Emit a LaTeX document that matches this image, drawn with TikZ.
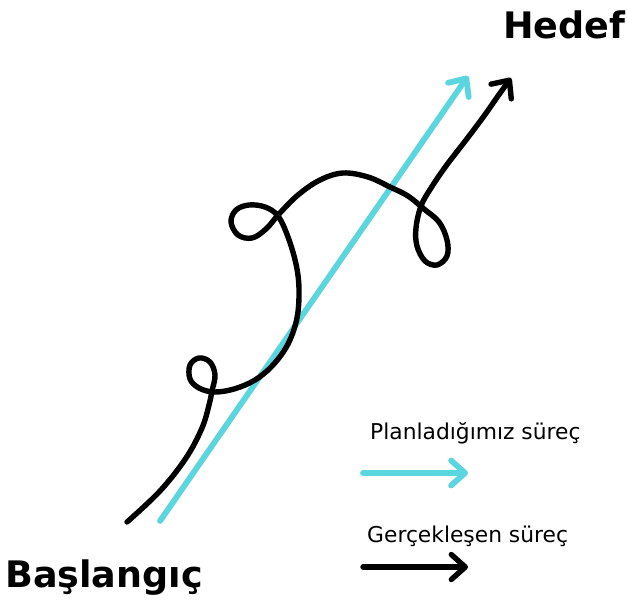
\documentclass[tikz,border=0pt]{standalone}
\usepackage{fontspec}
\setmainfont{DejaVu Sans}
\usetikzlibrary{arrows.meta}
\definecolor{plancyan}{RGB}{92,214,222}
\tikzset{
  barb/.style={-{Straight Barb[length=14pt,width=25pt,round]}},
  planned/.style={draw=plancyan, line width=5.8pt, line cap=round, barb},
  actual/.style={draw=black, line width=5.4pt, line cap=round, line join=round, barb},
  bigtitle/.style={anchor=base west, inner sep=0pt, font=\bfseries\fontsize{36.5}{40}\selectfont},
  legendtext/.style={anchor=base west, inner sep=0pt, font=\fontsize{21.8}{26}\selectfont}
}
\begin{document}
\begin{tikzpicture}[x=1pt,y=-1pt]
\useasboundingbox (0,0) rectangle (627,600);
% titles
\node[bigtitle] (hedef) at (503,38) {Hedef};
\node[bigtitle] (baslangic) at (5,587) {Başlangıç};
% planned path
\coordinate (ps) at (160,521);
\coordinate (pe) at (468,76);
\draw[planned] (ps) -- (pe);
% actual path
\draw[actual] plot[smooth, tension=0.6] coordinates {
 (127,522) (160,491) (186,458) (202,428) (209,405) (212,391) (215,375)
 (210,362) (199,358) (190,365) (190,379) (199,388) (214,392) (234,389)
 (255,380) (273,365) (288,344) (297,318) (299,289) (296,264) (288,237)
 (278,216) (265,207) (249,205) (236,210) (231,222) (238,235) (252,238)
 (266,229) (279,214) (298,195) (320,180) (343,173) (368,177) (390,187)
 (408,196) (424,209) (439,222) (447,240) (447,256) (437,265) (425,261)
 (417,246) (416,228) (421,206) (431,188) (446,166) (466,140) (484,116)
 (498,96) (511,78)};
% legend
\node[legendtext] (lplan) at (370,439) {Planladığımız süreç};
\coordinate (la1) at (363,473);
\coordinate (la2) at (468,473);
\draw[planned] (la1) -- (la2);
\node[legendtext] (lreal) at (367,542) {Gerçekleşen süreç};
\coordinate (lb1) at (363,567);
\coordinate (lb2) at (468,567);
\draw[actual] (lb1) -- (lb2);
\end{tikzpicture}
\end{document}
